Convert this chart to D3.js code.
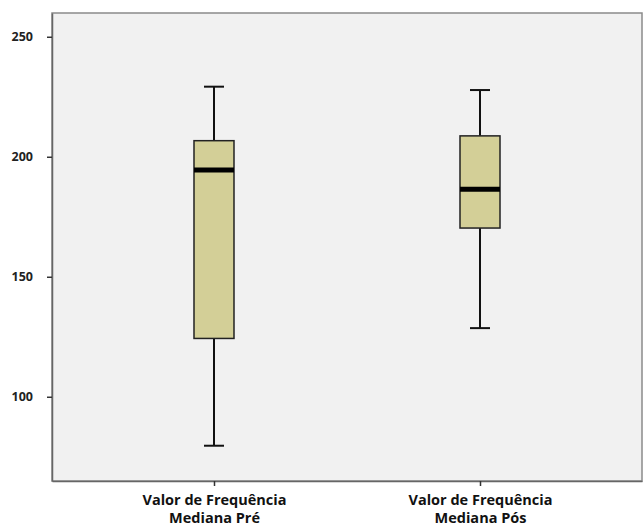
<!DOCTYPE html>
<html><head><meta charset="utf-8">
<script src="https://cdn.jsdelivr.net/npm/d3@7"></script>
<style>body{margin:0;background:#fff}svg{display:block}</style>
</head><body><svg id="c" width="643" height="526"></svg>
<script>
const categories = [["Valor de Frequência","Mediana Pré"],["Valor de Frequência","Mediana Pós"]];
const whiskerLow = [79.6, 128.6];
const q1 = [124.3, 170.3];
const median = [194.5, 186.5];
const q3 = [206.7, 208.7];
const whiskerHigh = [229.2, 227.8];
const yTicks = [100, 150, 200, 250];

const svg = d3.select("#c");
const L = 52, R = 642, T = 13, B = 481;
const y = d3.scaleLinear().domain([64.9, 259.9]).range([B, T]);
const x = d3.scalePoint().domain(d3.range(categories.length)).range([L, R]).padding(0.609);

svg.append("rect").attr("x", L).attr("y", T).attr("width", R - L).attr("height", B - T)
  .attr("fill", "#f1f1f1").attr("stroke", "#8a8a8a").attr("stroke-width", 1.5);

const yAxis = svg.append("g").attr("transform", `translate(${L},0)`)
  .call(d3.axisLeft(y).tickValues(yTicks).tickSize(5).tickSizeOuter(0).tickPadding(14));
yAxis.select(".domain").attr("stroke", "#666").attr("stroke-width", 1.5);
yAxis.selectAll(".tick line").attr("stroke", "#333").attr("stroke-width", 1.5);
yAxis.selectAll("text").attr("font-family", "Open Sans, Liberation Sans, sans-serif")
  .attr("font-size", 12.5).attr("font-weight", "bold").attr("fill", "#222");

const xAxis = svg.append("g").attr("transform", `translate(0,${B})`)
  .call(d3.axisBottom(x).tickSize(5).tickSizeOuter(0).tickFormat(""));
xAxis.select(".domain").attr("stroke", "#666").attr("stroke-width", 1.5);
xAxis.selectAll(".tick line").attr("stroke", "#333").attr("stroke-width", 1.5);
xAxis.selectAll(".tick").each(function(d){
  const t = d3.select(this).append("text").attr("fill", "#111")
    .attr("font-family", "Open Sans, Liberation Sans, sans-serif")
    .attr("font-size", 14.5).attr("font-weight", "bold").attr("text-anchor", "middle");
  categories[d].forEach((s, i) => t.append("tspan").attr("x", 0).attr("y", 24 + i * 18).text(s));
});

const bw = 40, cap = 20;
const g = svg.append("g");
categories.forEach((c, i) => {
  const cx = x(i);
  g.append("line").attr("x1", cx).attr("x2", cx).attr("y1", y(whiskerHigh[i])).attr("y2", y(q3[i]))
    .attr("stroke", "#111").attr("stroke-width", 2);
  g.append("line").attr("x1", cx).attr("x2", cx).attr("y1", y(q1[i])).attr("y2", y(whiskerLow[i]))
    .attr("stroke", "#111").attr("stroke-width", 2);
  [whiskerHigh[i], whiskerLow[i]].forEach(v => g.append("line")
    .attr("x1", cx - cap / 2).attr("x2", cx + cap / 2).attr("y1", y(v)).attr("y2", y(v))
    .attr("stroke", "#111").attr("stroke-width", 2));
  g.append("rect").attr("x", cx - bw / 2).attr("width", bw)
    .attr("y", y(q3[i])).attr("height", y(q1[i]) - y(q3[i]))
    .attr("fill", "#d3cf97").attr("stroke", "#222").attr("stroke-width", 1.5);
  g.append("line").attr("x1", cx - bw / 2).attr("x2", cx + bw / 2).attr("y1", y(median[i])).attr("y2", y(median[i]))
    .attr("stroke", "#000").attr("stroke-width", 5);
});
</script></body></html>
